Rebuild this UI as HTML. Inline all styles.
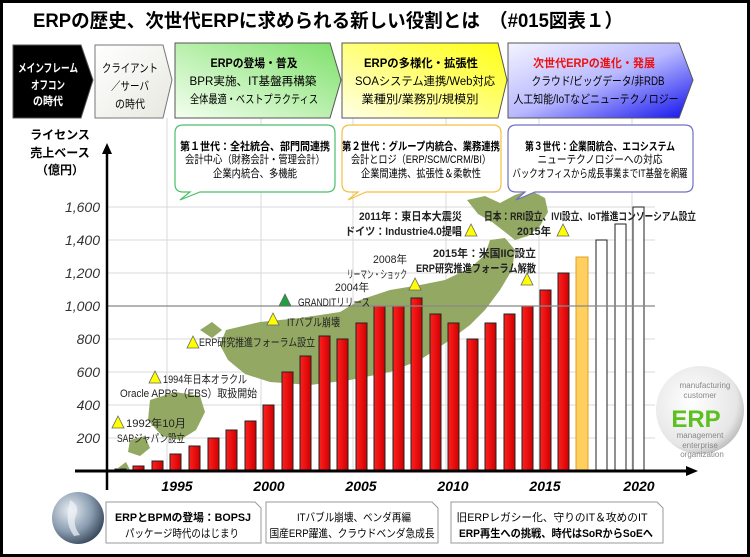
<!DOCTYPE html>
<html><head><meta charset="utf-8"><style>
html,body{margin:0;padding:0;background:#fff}
svg{display:block}
text{font-family:"Liberation Sans","Noto Sans CJK JP",sans-serif}
</style></head><body>
<svg width="750" height="557" viewBox="0 0 750 557" xmlns="http://www.w3.org/2000/svg">
<defs>
<linearGradient id="gG" x1="0" y1="1" x2="1" y2="0"><stop offset="0" stop-color="#f4fff0"/><stop offset="1" stop-color="#7ee06a"/></linearGradient>
<linearGradient id="gY" x1="0" y1="1" x2="1" y2="0"><stop offset="0" stop-color="#ffffe8"/><stop offset="1" stop-color="#ffff10"/></linearGradient>
<linearGradient id="gB" x1="0" y1="0" x2="1" y2="1"><stop offset="0" stop-color="#f4f4ff"/><stop offset="0.5" stop-color="#b8b8ff"/><stop offset="1" stop-color="#1010ee"/></linearGradient>
<linearGradient id="gW" x1="0" y1="0" x2="1" y2="1"><stop offset="0" stop-color="#fff"/><stop offset="1" stop-color="#e8e8e0"/></linearGradient>
<radialGradient id="globe" cx="0.35" cy="0.35" r="0.7"><stop offset="0" stop-color="#e8eef4"/><stop offset="0.6" stop-color="#8a9cb0"/><stop offset="1" stop-color="#3a4a5c"/></radialGradient>
<radialGradient id="sph" cx="0.4" cy="0.4" r="0.65"><stop offset="0" stop-color="#fff"/><stop offset="0.8" stop-color="#e6e6e6"/><stop offset="1" stop-color="#bbb"/></radialGradient>
<linearGradient id="bar" x1="0" x2="1"><stop offset="0" stop-color="#ff2020"/><stop offset="1" stop-color="#d00000"/></linearGradient>
</defs>
<rect x="1.5" y="1.5" width="747" height="554" fill="#fff" stroke="#000" stroke-width="3"/>
<text x="33" y="27" font-size="19" font-weight="bold" textLength="590" lengthAdjust="spacingAndGlyphs">ERPの歴史、次世代ERPに求められる新しい役割とは　（#015図表１）</text>

<!-- gridlines -->
<g stroke="#d8d8d8" stroke-width="1">
<line x1="167" y1="118" x2="167" y2="471"/><line x1="261" y1="118" x2="261" y2="471"/><line x1="353" y1="118" x2="353" y2="471"/><line x1="446" y1="118" x2="446" y2="471"/><line x1="539" y1="118" x2="539" y2="471"/><line x1="632" y1="118" x2="632" y2="471"/>
<line x1="107" y1="207" x2="655" y2="207"/><line x1="107" y1="240" x2="655" y2="240"/><line x1="107" y1="273" x2="655" y2="273"/><line x1="107" y1="339" x2="655" y2="339"/><line x1="107" y1="372" x2="655" y2="372"/><line x1="107" y1="405" x2="655" y2="405"/><line x1="107" y1="438" x2="655" y2="438"/>
</g>

<!-- Japan map rough -->
<g fill="#93a862">
<path d="M467,200 L485,196 L500,203 L515,195 L530,190 L545,198 L548,212 L540,226 L528,236 L515,240 L505,232 L492,222 L478,214 Z"/>
<path d="M226,330 L260,322 L300,318 L340,312 L360,300 L390,290 L420,285 L445,280 L470,268 L485,255 L490,240 L505,238 L515,250 L512,270 L500,290 L485,310 L470,325 L450,340 L420,360 L390,372 L350,380 L310,385 L270,382 L245,374 L228,360 L220,345 Z"/>
<path d="M200,330 L212,322 L222,330 L212,338 Z"/>
<path d="M150,400 L175,392 L200,396 L205,412 L196,430 L180,440 L162,436 L148,420 Z"/>
<path d="M130,440 L145,436 L150,448 L140,456 L128,452 Z"/>
<path d="M118,468 L126,462 L130,470 Z"/>
</g>

<!-- header arrows -->
<polygon points="13,45 81,45 93,80 81,118 13,118" fill="#000" stroke="#555"/>
<polygon points="95,45 163,45 172,80 163,118 95,118" fill="url(#gW)" stroke="#777"/>
<polygon points="175,43 330,43 341,80 330,118 175,118" fill="url(#gG)" stroke="#555"/>
<polygon points="342,43 498,43 507,80 498,118 342,118" fill="url(#gY)" stroke="#555"/>
<polygon points="508,43 679,43 693,80 679,118 508,118" fill="url(#gB)" stroke="#555"/>
<g font-size="11.5" text-anchor="middle" font-weight="bold">
<text x="48" y="72" fill="#fff" textLength="60" lengthAdjust="spacingAndGlyphs">メインフレーム</text><text x="48" y="89" fill="#fff" textLength="34" lengthAdjust="spacingAndGlyphs">オフコン</text><text x="48" y="105" fill="#fff" textLength="30" lengthAdjust="spacingAndGlyphs">の時代</text>
<text x="130" y="72" font-weight="normal" textLength="56" lengthAdjust="spacingAndGlyphs">クライアント</text><text x="130" y="90" font-weight="normal" textLength="38" lengthAdjust="spacingAndGlyphs">／サーバ</text><text x="130" y="108" font-weight="normal" textLength="30" lengthAdjust="spacingAndGlyphs">の時代</text>
<text x="254" y="67" textLength="87" lengthAdjust="spacingAndGlyphs">ERPの登場・普及</text><text x="421" y="67" textLength="114" lengthAdjust="spacingAndGlyphs">ERPの多様化・拡張性</text><text x="594" y="67" fill="#ee1111" textLength="122" lengthAdjust="spacingAndGlyphs">次世代ERPの進化・発展</text>
</g>
<g font-size="11.5" text-anchor="middle">
<text x="253" y="85" textLength="127" lengthAdjust="spacingAndGlyphs">BPR実施、IT基盤再構築</text><text x="254" y="103" textLength="128" lengthAdjust="spacingAndGlyphs">全体最適・ベストプラクティス</text>
<text x="425" y="85" textLength="140" lengthAdjust="spacingAndGlyphs">SOAシステム連携/Web対応</text><text x="420" y="103" textLength="117" lengthAdjust="spacingAndGlyphs">業種別/業務別/規模別</text>
<text x="598" y="85" textLength="133" lengthAdjust="spacingAndGlyphs">クラウド/ビッグデータ/非RDB</text><text x="596" y="103" textLength="165" lengthAdjust="spacingAndGlyphs">人工知能/IoTなどニューテクノロジー</text>
</g>

<!-- callouts -->
<path d="M187,125 H327 Q335,125 335,133 V184 Q335,192 327,192 H200 L180,200 L190,192 H183 Q175,192 175,184 V133 Q175,125 183,125 Z" fill="#fff" stroke="#4cbf6a" stroke-width="1.2"/>
<path d="M354,125 H493 Q501,125 501,133 V184 Q501,192 493,192 H366 L348,200 L358,192 H350 Q342,192 342,184 V133 Q342,125 350,125 Z" fill="#fff" stroke="#f2c040" stroke-width="1.2"/>
<path d="M520,125 H685 Q693,125 693,133 V184 Q693,192 685,192 H535 L516,200 L525,192 H516 Q508,192 508,184 V133 Q508,125 516,125 Z" fill="#fff" stroke="#7070c0" stroke-width="1.2"/>
<g font-size="11" text-anchor="middle">
<text x="255" y="150" font-weight="bold" textLength="150" lengthAdjust="spacingAndGlyphs">第１世代：全社統合、部門間連携</text>
<text x="255" y="163" textLength="140" lengthAdjust="spacingAndGlyphs">会計中心（財務会計・管理会計）</text>
<text x="255" y="177" textLength="84" lengthAdjust="spacingAndGlyphs">企業内統合、多機能</text>
<text x="421" y="150" font-weight="bold" textLength="158" lengthAdjust="spacingAndGlyphs">第２世代：グループ内統合、業務連携</text>
<text x="421" y="163" textLength="140" lengthAdjust="spacingAndGlyphs">会計とロジ（ERP/SCM/CRM/BI）</text>
<text x="421" y="177" textLength="120" lengthAdjust="spacingAndGlyphs">企業間連携、拡張性＆柔軟性</text>
<text x="600" y="150" font-weight="bold" textLength="150" lengthAdjust="spacingAndGlyphs">第３世代：企業間統合、エコシステム</text>
<text x="600" y="163" textLength="125" lengthAdjust="spacingAndGlyphs">ニューテクノロジーへの対応</text>
<text x="600" y="177" textLength="175" lengthAdjust="spacingAndGlyphs">バックオフィスから成長事業までIT基盤を網羅</text>
</g>

<!-- y label -->
<g font-size="12" text-anchor="middle" font-weight="bold">
<text x="60" y="139">ライセンス</text><text x="60" y="157">売上ベース</text><text x="60" y="174">（億円）</text>
</g>

<!-- bars -->
<g stroke="#222" stroke-width="1">
<rect x="115" y="469" width="11" height="2" fill="url(#bar)"/>
<rect x="133" y="466" width="11" height="5" fill="url(#bar)"/>
<rect x="152" y="461" width="11" height="10" fill="url(#bar)"/>
<rect x="170" y="454" width="11" height="17" fill="url(#bar)"/>
<rect x="189" y="446" width="11" height="25" fill="url(#bar)"/>
<rect x="208" y="438" width="11" height="33" fill="url(#bar)"/>
<rect x="226" y="430" width="11" height="41" fill="url(#bar)"/>
<rect x="245" y="421" width="11" height="50" fill="url(#bar)"/>
<rect x="263" y="405" width="11" height="66" fill="url(#bar)"/>
<rect x="282" y="372" width="11" height="99" fill="url(#bar)"/>
<rect x="300" y="356" width="11" height="115" fill="url(#bar)"/>
<rect x="319" y="336" width="11" height="135" fill="url(#bar)"/>
<rect x="337" y="339" width="11" height="132" fill="url(#bar)"/>
<rect x="356" y="323" width="11" height="148" fill="url(#bar)"/>
<rect x="374" y="306" width="11" height="165" fill="url(#bar)"/>
<rect x="393" y="306" width="11" height="165" fill="url(#bar)"/>
<rect x="411" y="298" width="11" height="173" fill="url(#bar)"/>
<rect x="430" y="314" width="11" height="157" fill="url(#bar)"/>
<rect x="448" y="323" width="11" height="148" fill="url(#bar)"/>
<rect x="467" y="339" width="11" height="132" fill="url(#bar)"/>
<rect x="485" y="323" width="11" height="148" fill="url(#bar)"/>
<rect x="504" y="314" width="11" height="157" fill="url(#bar)"/>
<rect x="522" y="306" width="11" height="165" fill="url(#bar)"/>
<rect x="540" y="290" width="11" height="181" fill="url(#bar)"/>
<rect x="558" y="273" width="11" height="198" fill="url(#bar)"/>
<rect x="576" y="257" width="12" height="214" fill="#ffd060" stroke="#e0a020"/>
<rect x="596" y="240" width="11" height="231" fill="#fff"/>
<rect x="615" y="224" width="11" height="247" fill="#fff"/>
<rect x="633" y="207" width="11" height="264" fill="#fff"/>
</g>
<line x1="107" y1="306" x2="655" y2="306" stroke="#888" stroke-width="1.2"/>

<!-- axes -->
<line x1="107" y1="490" x2="107" y2="152" stroke="#000" stroke-width="2.5"/>
<polygon points="107,143 102,154 112,154" fill="#000"/>
<line x1="75" y1="471" x2="690" y2="471" stroke="#000" stroke-width="3"/>
<polygon points="698,471 686,466 686,476" fill="#000"/>

<g font-size="14" font-style="italic" text-anchor="end" fill="#333">
<text x="100" y="212">1,600</text><text x="100" y="245">1,400</text><text x="100" y="278">1,200</text><text x="100" y="311">1,000</text><text x="100" y="344">800</text><text x="100" y="377">600</text><text x="100" y="410">400</text><text x="100" y="443">200</text>
</g>
<g font-size="14" font-style="italic" font-weight="bold" text-anchor="middle">
<text x="177" y="491">1995</text><text x="269" y="491">2000</text><text x="361" y="491">2005</text><text x="453" y="491">2010</text><text x="545" y="491">2015</text><text x="639" y="491">2020</text>
</g>

<!-- annotations -->
<g fill="#ffff00" stroke="#666" stroke-width="0.8">
<polygon points="118,416 112,428 124,428"/><polygon points="155,371 149,383 161,383"/><polygon points="193,336 187,348 199,348"/><polygon points="273,313 267,325 279,325"/><polygon points="415,278 409,290 421,290"/><polygon points="471,224 465,236 477,236"/><polygon points="563,224 557,236 569,236"/><polygon points="527,273 521,285 533,285"/>
<polygon points="285,294 279,306 291,306" fill="#20a040"/>
</g>
<g font-size="11" fill="#222">
<text x="126" y="427" textLength="60" lengthAdjust="spacingAndGlyphs">1992年10月</text>
<text x="117" y="442" textLength="68" lengthAdjust="spacingAndGlyphs">SAPジャパン設立</text>
<text x="163" y="383" textLength="84" lengthAdjust="spacingAndGlyphs">1994年日本オラクル</text>
<text x="120" y="397" textLength="137" lengthAdjust="spacingAndGlyphs">Oracle APPS（EBS）取扱開始</text>
<text x="199" y="346" textLength="116" lengthAdjust="spacingAndGlyphs">ERP研究推進フォーラム設立</text>
<text x="287" y="326" textLength="53" lengthAdjust="spacingAndGlyphs">ITバブル崩壊</text>
<text x="298" y="306" textLength="72" lengthAdjust="spacingAndGlyphs">GRANDITリリース</text>
<text x="335" y="291" textLength="34" lengthAdjust="spacingAndGlyphs">2004年</text>
<text x="373" y="263" textLength="34" lengthAdjust="spacingAndGlyphs">2008年</text>
<text x="347" y="278" textLength="60" lengthAdjust="spacingAndGlyphs">リーマン・ショック</text>
</g>
<g font-size="11" font-weight="bold" fill="#222">
<text x="359" y="220" textLength="103" lengthAdjust="spacingAndGlyphs">2011年：東日本大震災</text>
<text x="345" y="235" textLength="117" lengthAdjust="spacingAndGlyphs">ドイツ：Industrie4.0提唱</text>
<text x="484" y="220" textLength="212" lengthAdjust="spacingAndGlyphs">日本：RRI設立、IVI設立、IoT推進コンソーシアム設立</text>
<text x="517" y="235" textLength="34" lengthAdjust="spacingAndGlyphs">2015年</text>
<text x="433" y="257" textLength="103" lengthAdjust="spacingAndGlyphs">2015年：米国IIC設立</text>
<text x="416" y="272" textLength="120" lengthAdjust="spacingAndGlyphs">ERP研究推進フォーラム解散</text>
</g>

<!-- ERP sphere -->
<circle cx="700" cy="410" r="44" fill="url(#sph)"/>
<g font-size="8" fill="#888" text-anchor="middle">
<text x="705" y="388">manufacturing</text><text x="700" y="398">customer</text><text x="700" y="438">management</text><text x="700" y="448">enterprise</text><text x="702" y="457">organization</text>
</g>
<text x="696" y="427" font-size="24" font-weight="bold" fill="#5cc020" text-anchor="middle">ERP</text>

<!-- globe -->
<circle cx="78" cy="518" r="26" fill="url(#globe)"/>
<path d="M70,500 Q80,505 76,515 Q72,525 80,535 L74,536 Q66,525 68,512 Z" fill="#f0f4f8" opacity="0.7"/>

<!-- bottom boxes -->
<g fill="#fff" stroke="#999">
<path d="M106,502 H255 L261,508 V543 H106 Z"/>
<path d="M266,502 H432 L438,508 V543 H266 Z"/>
<path d="M451,502 H657 L663,508 V543 H451 Z"/>
</g>
<g font-size="11" text-anchor="middle">
<text x="183" y="521" font-weight="bold" textLength="136" lengthAdjust="spacingAndGlyphs">ERPとBPMの登場：BOPSJ</text><text x="182" y="537" textLength="114" lengthAdjust="spacingAndGlyphs">パッケージ時代のはじまり</text>
<text x="354" y="521" textLength="114" lengthAdjust="spacingAndGlyphs">ITバブル崩壊、ベンダ再編</text><text x="352" y="537" textLength="165" lengthAdjust="spacingAndGlyphs">国産ERP躍進、クラウドベンダ急成長</text>
<text x="552" y="521" textLength="191" lengthAdjust="spacingAndGlyphs">旧ERPレガシー化、守りのIT＆攻めのIT</text><text x="556" y="537" font-weight="bold" textLength="194" lengthAdjust="spacingAndGlyphs">ERP再生への挑戦、時代はSoRからSoEへ</text>
</g>
</svg>
</body></html>
